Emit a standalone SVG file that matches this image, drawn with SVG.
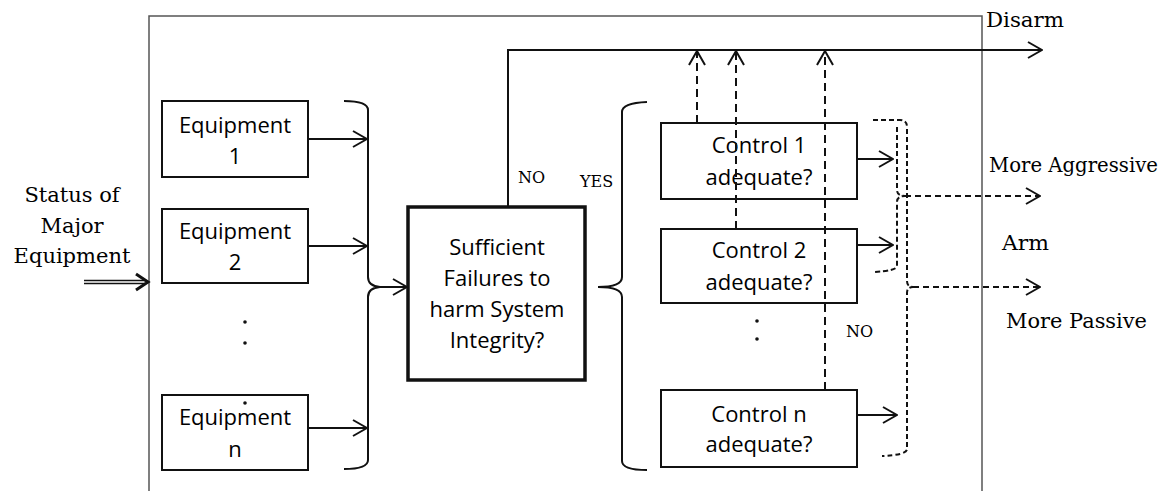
<svg xmlns="http://www.w3.org/2000/svg" width="1175" height="491" viewBox="0 0 1175 491">
<defs>
<marker id="open" viewBox="0 0 16 18" refX="15" refY="9" markerWidth="16" markerHeight="18" markerUnits="userSpaceOnUse" orient="auto">
<path d="M1,1 L15,9 L1,17" fill="none" stroke="#111" stroke-width="2"/>
</marker>
</defs>
<style>
.box{fill:#fff;stroke:#111;stroke-width:2}
.thick{fill:#fff;stroke:#111;stroke-width:3.5}
.sans{font-family:"Open Sans","Liberation Sans",sans-serif;font-size:22px;fill:#000;text-anchor:middle}
.serif{font-family:"DejaVu Serif","Liberation Serif",serif;font-size:21px;fill:#000}
.small{font-family:"DejaVu Serif","Liberation Serif",serif;font-size:16px;fill:#000}
.ln{fill:none;stroke:#111;stroke-width:2}
.arr{fill:none;stroke:#111;stroke-width:2;marker-end:url(#open)}
.dash{fill:none;stroke:#111;stroke-width:2;stroke-dasharray:8 5;marker-end:url(#open)}
.dbr{fill:none;stroke:#111;stroke-width:2;stroke-dasharray:5 3}
.dot{fill:#111}
</style>
<rect width="1175" height="491" fill="#fff"/>
<g id="frame">
<path d="M149,491 V16 H982 V491" fill="none" stroke="#555" stroke-width="1.5"/>
</g>
<g id="status">
<text class="serif" x="72" y="202" text-anchor="middle">Status of</text>
<text class="serif" x="72" y="233" text-anchor="middle">Major</text>
<text class="serif" x="72" y="263" text-anchor="middle">Equipment</text>
</g>
<g id="equipment1">
<rect class="box" x="162" y="101" width="146" height="76"/>
<text class="sans" x="235" y="133">Equipment</text>
<text class="sans" x="235" y="164">1</text>
</g>
<g id="equipment2">
<rect class="box" x="162" y="209" width="146" height="74"/>
<text class="sans" x="235" y="239">Equipment</text>
<text class="sans" x="235" y="270">2</text>
</g>
<g id="equipment-dots">
<circle class="dot" cx="245" cy="322" r="1.8"/>
<circle class="dot" cx="245" cy="343" r="1.8"/>
</g>
<g id="equipmentn">
<rect class="box" x="162" y="395" width="146" height="75"/>
<circle class="dot" cx="245" cy="403" r="1.8"/>
<text class="sans" x="235" y="425">Equipment</text>
<text class="sans" x="235" y="457">n</text>
</g>
<g id="decision">
<rect class="thick" x="408" y="207" width="177" height="173"/>
<text class="sans" x="497" y="255">Sufficient</text>
<text class="sans" x="497" y="286">Failures to</text>
<text class="sans" x="497" y="317">harm System</text>
<text class="sans" x="497" y="348">Integrity?</text>
</g>
<g id="control1">
<rect class="box" x="661" y="123" width="196" height="76"/>
<text class="sans" x="759" y="153">Control 1</text>
<text class="sans" x="759" y="185">adequate?</text>
</g>
<g id="control2">
<rect class="box" x="661" y="229" width="196" height="74"/>
<text class="sans" x="759" y="258">Control 2</text>
<text class="sans" x="759" y="290">adequate?</text>
</g>
<g id="control-dots">
<circle class="dot" cx="757" cy="321" r="1.8"/>
<circle class="dot" cx="757" cy="339" r="1.8"/>
</g>
<g id="controln">
<rect class="box" x="661" y="390" width="196" height="77"/>
<text class="sans" x="759" y="422">Control n</text>
<text class="sans" x="759" y="452">adequate?</text>
</g>
<g id="connectors">
<path d="M84,280.5 H146 M84,283.5 H146" stroke="#111" stroke-width="1.5" fill="none"/>
<path d="M136,274 L148,282 L136,290" fill="none" stroke="#111" stroke-width="3"/>
<line class="arr" x1="308" y1="139" x2="367" y2="139"/>
<line class="arr" x1="308" y1="246" x2="367" y2="246"/>
<line class="arr" x1="308" y1="428" x2="367" y2="428"/>
<path class="ln" d="M344,101 Q368,101 368,110 V277 Q368,286 380,287 Q368,288 368,297 V460 Q368,469 344,469"/>
<line class="arr" x1="380" y1="287" x2="407" y2="287"/>
<path class="arr" d="M508,207 V50 H1042"/>
<path class="ln" d="M647,102 Q622,103 622,112 V277 Q622,287 598,287 Q622,287 622,297 V461 Q622,470 647,470"/>
<line class="dash" x1="697" y1="123" x2="697" y2="51"/>
<line class="dash" x1="736" y1="229" x2="736" y2="51"/>
<line class="dash" x1="825" y1="390" x2="825" y2="51"/>
<line class="arr" x1="857" y1="159" x2="893" y2="159"/>
<line class="arr" x1="857" y1="245" x2="893" y2="245"/>
<line class="arr" x1="858" y1="415" x2="897" y2="415"/>
<path class="dbr" d="M873,120 L900,120 Q907,120 907,127 V281 Q907,287 913,287 Q907,287 907,293 V449 Q907,455 882,456"/>
<path class="dbr" d="M897,127 V190 Q897,196 905,196 Q897,196 897,202 V266 Q897,271 873,272"/>
<line class="dash" x1="905" y1="196" x2="1040" y2="196" style="stroke-dasharray:6 4"/>
<line class="dash" x1="913" y1="287" x2="1040" y2="287" style="stroke-dasharray:6 4"/>
</g>
<g id="labels">
<text class="small" x="518" y="183">NO</text>
<text class="small" x="580" y="187">YES</text>
<text class="small" x="846" y="337">NO</text>
<text class="serif" x="986" y="27" textLength="78" lengthAdjust="spacingAndGlyphs">Disarm</text>
<text class="serif" x="989" y="172" textLength="169" lengthAdjust="spacingAndGlyphs">More Aggressive</text>
<text class="serif" x="1002" y="250" textLength="47" lengthAdjust="spacingAndGlyphs">Arm</text>
<text class="serif" x="1006" y="328" textLength="141" lengthAdjust="spacingAndGlyphs">More Passive</text>
</g>
</svg>
